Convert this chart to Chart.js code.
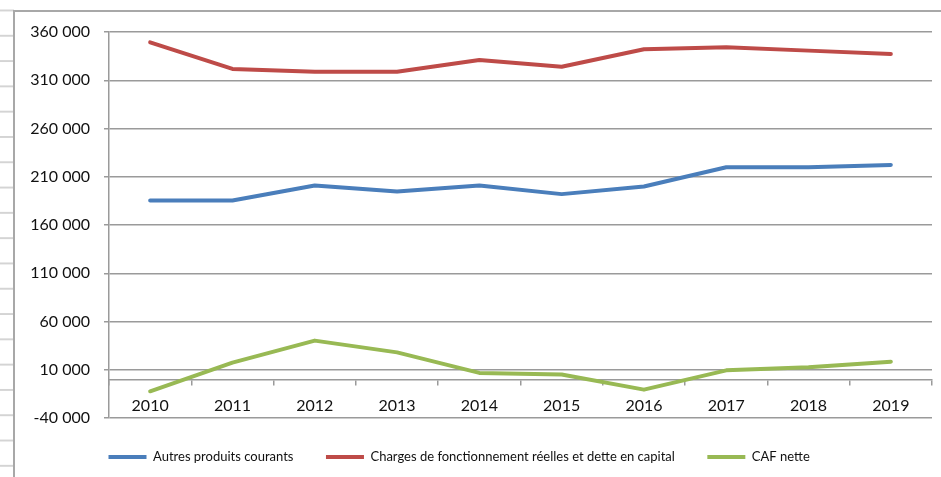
<!DOCTYPE html>
<html lang="fr">
<head>
    <meta charset="UTF-8">
    <title>Autres produits courants, charges et CAF nette</title>
    <style>
        body {
            margin: 0;
            padding: 0;
            background: #fff;
        }
        #wrap {
            position: relative;
            width: 941px;
            height: 477px;
            overflow: hidden;
            /* spreadsheet rows peeking out on the left */
            background-image: linear-gradient(#d4d4d4 0, #d4d4d4 1.5px, transparent 1.5px);
            background-size: 14px 25.3px;
            background-position: 0 9.5px;
            background-repeat: repeat-y;
        }
        #frame {
            position: absolute;
            left: 13px;
            top: 10px;
            right: 0;
            bottom: 0;
            border-left: 2px solid #a8a8a8;
            border-top: 2px solid #a8a8a8;
            background: #fff;
        }
        #chart {
            position: absolute;
            left: 0;
            top: 0;
        }
    </style>
</head>
<body>
    <div id="wrap">
        <div id="frame"></div>
        <canvas id="chart" width="941" height="477"></canvas>
    </div>
    <script src="https://cdn.jsdelivr.net/npm/chart.js"></script>
    <script>
        // values (euros)
        var years = ['2010', '2011', '2012', '2013', '2014', '2015', '2016', '2017', '2018', '2019'];
        var autresProduits = [185400, 185400, 200900, 194700, 200900, 192000, 199900, 219900, 219900, 222300];
        var charges = [349300, 321700, 318900, 318900, 331000, 324000, 342100, 344200, 340700, 337200];
        var cafNette = [-12300, 17400, 40200, 28000, 6700, 5000, -10600, 9400, 12500, 18400];

        var gridGray = '#9a9a9a';
        var font = 'Lato, "Open Sans", sans-serif';

        function fmt(v) {
            return String(v).replace(/\B(?=(\d{3})+(?!\d))/g, ' ');
        }

        function line(label, data, color) {
            return {
                label: label,
                data: data,
                borderColor: color,
                backgroundColor: color,
                borderWidth: 4,
                pointRadius: 0,
                tension: 0,
                borderCapStyle: 'round',
                borderJoinStyle: 'round'
            };
        }

        // Excel puts the legend under the plot area, a bit right of where Chart.js starts it
        var legendShift = {
            id: 'legendShift',
            afterLayout: function(chart) {
                chart.legend.left += 74;
                chart.legend.right += 74;
            }
        };

        var ctx = document.getElementById('chart').getContext('2d');
        var myChart = new Chart(ctx, {
            type: 'line',
            data: {
                labels: years,
                datasets: [
                    line('Autres produits courants', autresProduits, '#4a7ebb'),
                    line('Charges de fonctionnement réelles et dette en capital', charges, '#be4b48'),
                    line('CAF nette', cafNette, '#98b954')
                ]
            },
            plugins: [legendShift],
            options: {
                responsive: false,
                animation: false,
                layout: {
                    padding: { left: 2, top: 32, right: 9, bottom: 3.5 }
                },
                plugins: {
                    tooltip: { enabled: false },
                    legend: {
                        position: 'bottom',
                        align: 'start',
                        labels: {
                            boxWidth: 38,
                            boxHeight: 4,
                            padding: 32.5,
                            color: '#111',
                            font: { family: font, size: 13 },
                            generateLabels: function(chart) {
                                var items = Chart.defaults.plugins.legend.labels.generateLabels(chart);
                                items.forEach(function(it) {
                                    it.lineWidth = 0;
                                    it.fillStyle = chart.data.datasets[it.datasetIndex].borderColor;
                                });
                                return items;
                            }
                        }
                    }
                },
                scales: {
                    x: {
                        position: { y: 0 },
                        offset: true,
                        grid: {
                            offset: true,
                            drawOnChartArea: false,
                            drawTicks: true,
                            tickLength: 5,
                            color: gridGray,
                            lineWidth: 1.5
                        },
                        border: { display: true, color: gridGray, width: 1.5 },
                        ticks: {
                            color: '#111',
                            padding: 12,
                            maxRotation: 0,
                            font: { family: font, size: 16 }
                        }
                    },
                    y: {
                        min: -40000,
                        max: 360000,
                        afterFit: function(scale) { scale.width = 107; },
                        grid: {
                            color: gridGray,
                            lineWidth: 1.5,
                            tickLength: 5
                        },
                        border: { display: true, color: gridGray, width: 1.5 },
                        ticks: {
                            stepSize: 50000,
                            color: '#111',
                            padding: 14,
                            font: { family: font, size: 16 },
                            callback: function(v) { return fmt(v); }
                        }
                    }
                }
            }
        });
    </script>
</body>
</html>
